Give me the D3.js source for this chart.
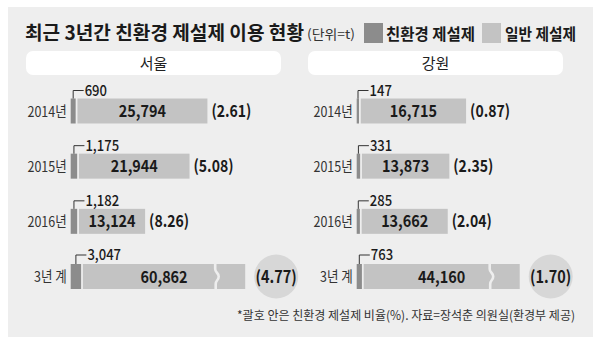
<!DOCTYPE html>
<html><head><meta charset="utf-8">
<script src="https://cdn.jsdelivr.net/npm/d3@7/dist/d3.min.js"></script>
<style>body{margin:0;background:#fff}svg{display:block}text{font-family:"Noto Sans CJK KR","Noto Sans",sans-serif}</style>
</head><body><svg id="c" width="600" height="342"></svg>
<script>
const categories = ['2014년', '2015년', '2016년', '3년 계'];
const regions = ['서울', '강원'];
const seoulEco = [690, 1175, 1182, 3047];
const seoulGeneral = [25794, 21944, 13124, 60862];
const seoulRatio = ['2.61', '5.08', '8.26', '4.77'];
const gangwonEco = [147, 331, 285, 763];
const gangwonGeneral = [16715, 13873, 13662, 44160];
const gangwonRatio = ['0.87', '2.35', '2.04', '1.70'];
const legendLabels = ['친환경 제설제', '일반 제설제'];
const titleText = '최근 3년간 친환경 제설제 이용 현황';
const unitText = '(단위=t)';
const noteText = '*괄호 안은 친환경 제설제 비율(%). 자료=장석춘 의원실(환경부 제공)';

const C = {bg:'#eeeeee', eco:'#8c8c8c', gen:'#c3c3c3', circ:'#d7d7d7', ink:'#1a1a1a'};
const svg = d3.select('#c');
function condense(sel, f){ sel.each(function(){ const w=this.getComputedTextLength(); d3.select(this).attr('textLength', w*f).attr('lengthAdjust','spacingAndGlyphs'); }); return sel; }
function fit(sel, w){ return sel.attr('textLength', w).attr('lengthAdjust','spacingAndGlyphs'); }

svg.append('rect').attr('x',8).attr('y',7).attr('width',585).attr('height',330).attr('fill',C.bg);

fit(svg.append('text').attr('x',25).attr('y',39.5).attr('font-size',19.5).attr('font-weight',700).attr('fill',C.ink).text(titleText), 279);
fit(svg.append('text').attr('x',307).attr('y',39).attr('font-size',13).attr('fill','#333').text(unitText), 48);
const legX = [364, 482], legTX = [386, 505], legW = [89, 71];
[C.eco, C.gen].forEach((col,i)=>{
  svg.append('rect').attr('x',legX[i]).attr('y',23).attr('width',19).attr('height',20).attr('fill',col);
  fit(svg.append('text').attr('x',legTX[i]).attr('y',40).attr('font-size',16).attr('font-weight',700).attr('fill',C.ink).text(legendLabels[i]), legW[i]);
});

const y = d3.scalePoint().domain(categories).range([111, 276.5]);
const barH = 25;
const ecoW = d3.scaleSqrt().domain([0, 3047]).range([0, 10.4]);
const fmt = d3.format(',');

const panels = [
  {name: regions[0], eco: seoulEco, gen: seoulGeneral, ratio: seoulRatio, ox: 70.7, boxX: 26,
   gx: d3.scaleLinear().domain([0, 26000, 60862]).range([0, 131, 162.3])},
  {name: regions[1], eco: gangwonEco, gen: gangwonGeneral, ratio: gangwonRatio, ox: 356.7, boxX: 308,
   gx: d3.scaleLinear().domain([0, 20000, 44160]).range([0, 126, 156])}
];

panels.forEach(p=>{
  const g = svg.append('g');
  g.append('rect').attr('x',p.boxX).attr('y',51).attr('width',255).attr('height',24).attr('rx',7).attr('fill','#fff');
  g.append('text').attr('x',p.boxX+127.5).attr('y',69).attr('text-anchor','middle').attr('font-size',15).attr('fill','#222').text(p.name);

  categories.forEach((cat,i)=>{
    const cy = y(cat), top = cy - barH/2;
    const ew = ecoW(p.eco[i]);
    const gx0 = p.ox + ew + 1.8;
    const gw = p.gx(p.gen[i]);
    const isTotal = i === categories.length-1;
    condense(g.append('text').attr('x',p.ox-4).attr('y',cy+5.5).attr('text-anchor','end').attr('font-size',14.5).attr('fill','#333').text(cat), 0.86);
    g.append('rect').attr('x',p.ox).attr('y',top).attr('width',ew).attr('height',barH).attr('fill',C.eco);
    g.append('rect').attr('x',gx0).attr('y',top).attr('width',gw).attr('height',barH).attr('fill',C.gen);
    // leader
    const lx = p.ox + Math.max(ew/2, 1.3), ly = top - (isTotal ? 9 : 8);
    g.append('path').attr('d',`M${lx},${top}V${ly}H${lx+10.5}`).attr('fill','none').attr('stroke','#333').attr('stroke-width',1);
    condense(g.append('text').attr('x',lx+11.5).attr('y',ly+5).attr('font-size',15).attr('font-weight',500).attr('fill',C.ink).text(fmt(p.eco[i])), 0.87);
    // value inside
    condense(g.append('text').attr('x',gx0+gw/2).attr('y',cy+6).attr('text-anchor','middle').attr('font-size',16).attr('font-weight',700).attr('fill',C.ink).text(fmt(p.gen[i])), 0.9);
    const end = gx0 + gw;
    if(isTotal){
      const bx = end - 30;
      g.append('path').attr('d',`M${bx},${top-1}V${top+5}C${bx},${top+9} ${bx+3.5},${cy-4} ${bx+3.5},${cy}C${bx+3.5},${cy+4} ${bx+0.5},${top+barH-9} ${bx+0.5},${top+barH-5}V${top+barH+1}`)
        .attr('fill','none').attr('stroke',C.bg).attr('stroke-width',2.6);
      g.append('circle').attr('cx',end+31).attr('cy',cy).attr('r',22).attr('fill',C.circ);
      condense(g.append('text').attr('x',end+31).attr('y',cy+6).attr('text-anchor','middle').attr('font-size',17).attr('font-weight',700).attr('fill',C.ink).text('('+p.ratio[i]+')'), 0.85);
    } else {
      condense(g.append('text').attr('x',end+4).attr('y',cy+6).attr('font-size',16.5).attr('font-weight',700).attr('fill',C.ink).text('('+p.ratio[i]+')'), 0.85);
    }
  });
});

fit(svg.append('text').attr('x',575).attr('y',320).attr('text-anchor','end').attr('font-size',12.5).attr('fill','#333').text(noteText), 338);
</script></body></html>
